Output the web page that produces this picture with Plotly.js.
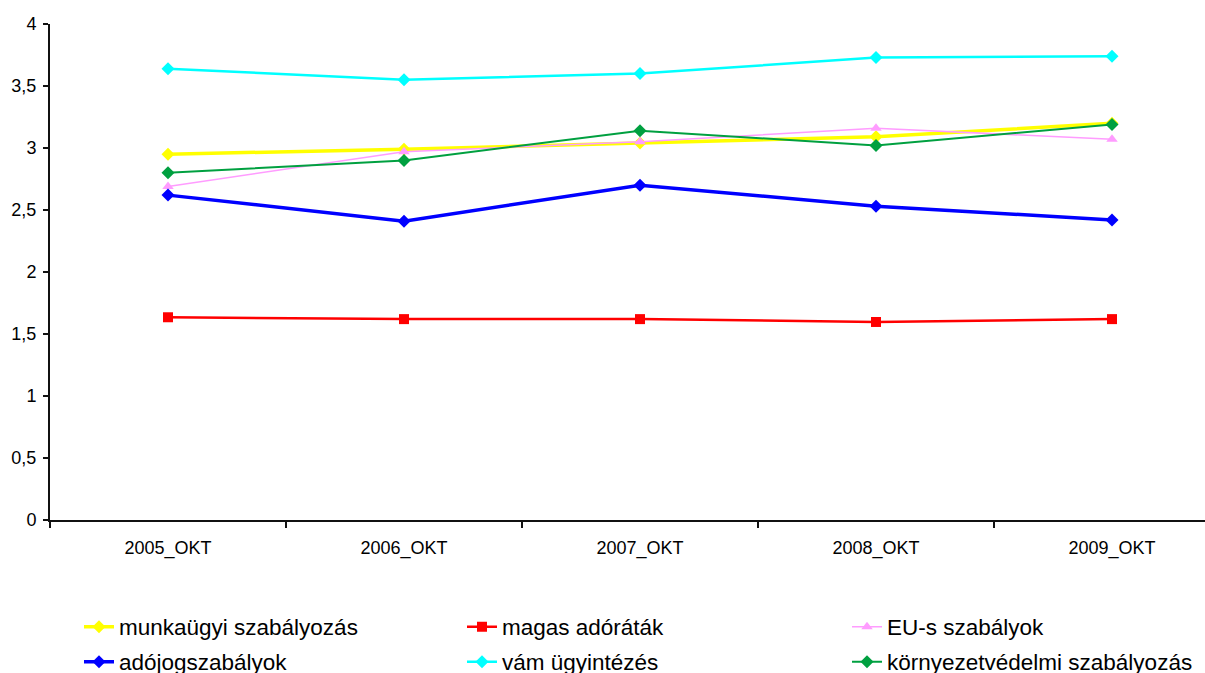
<!DOCTYPE html>
<html>
<head>
<meta charset="utf-8">
<script src="https://cdn.plot.ly/plotly-3.0.1.min.js"></script>
<style>
html, body { margin: 0; padding: 0; overflow: hidden; background: #fff; }
#chart { width: 1240px; height: 673px; }
</style>
</head>
<body>
<div id="chart"></div>
<script>
const categories = ['2005_OKT', '2006_OKT', '2007_OKT', '2008_OKT', '2009_OKT'];
const munkaugyi = [2.95, 2.99, 3.04, 3.09, 3.20];
const magasAdoratak = [1.635, 1.62, 1.62, 1.597, 1.62];
const euSzabalyok = [2.69, 2.97, 3.05, 3.16, 3.07];
const adojog = [2.62, 2.41, 2.70, 2.53, 2.42];
const vam = [3.64, 3.55, 3.60, 3.73, 3.74];
const kornyezet = [2.80, 2.90, 3.14, 3.02, 3.19];
const seriesNames = ['munkaügyi szabályozás', 'magas adóráták', 'EU-s szabályok', 'adójogszabályok', 'vám ügyintézés', 'környezetvédelmi szabályozás'];

function tr(name, y, color, width, symbol, size, legend) {
  return {
    type: 'scatter', mode: 'lines+markers', name: name, x: categories, y: y,
    line: { color: color, width: width },
    marker: { color: color, symbol: symbol, size: size },
    legend: legend
  };
}

const data = [
  tr(seriesNames[0], munkaugyi, '#FFFF00', 3.5, 'diamond', 10, 'legend'),
  tr(seriesNames[1], magasAdoratak, '#FF0000', 2.5, 'square', 10, 'legend2'),
  tr(seriesNames[2], euSzabalyok, '#FF9CFF', 1.5, 'triangle-up', 10, 'legend3'),
  tr(seriesNames[3], adojog, '#0000FF', 3.5, 'diamond', 10, 'legend4'),
  tr(seriesNames[4], vam, '#00FFFF', 2.5, 'diamond', 10, 'legend5'),
  tr(seriesNames[5], kornyezet, '#00A040', 2, 'diamond', 10, 'legend6')
];

function leg(xpx, ypx) {
  return {
    orientation: 'h', xref: 'container', yref: 'container',
    xanchor: 'left', yanchor: 'middle',
    x: xpx / 1240, y: 1 - ypx / 673,
    font: { family: 'Liberation Sans, Arial, sans-serif', size: 22.5, color: '#000' },
    bgcolor: 'rgba(0,0,0,0)', borderwidth: 0
  };
}

const layout = {
  width: 1240, height: 673,
  margin: { l: 50, r: 10, t: 24, b: 153 },
  paper_bgcolor: '#fff', plot_bgcolor: '#fff',
  separators: ', ',
  showlegend: true,
  font: { family: 'Liberation Sans, Arial, sans-serif', size: 18, color: '#000' },
  xaxis: {
    type: 'category', range: [-0.5, 4.5], tickson: 'boundaries',
    showline: true, linecolor: '#111', linewidth: 2,
    ticks: 'outside', ticklen: 6, tickwidth: 1.5, tickcolor: '#111',
    showgrid: false, zeroline: false, ticklabelstandoff: 10,
    tickfont: { size: 18 }
  },
  yaxis: {
    range: [0, 4], dtick: 0.5, tick0: 0,
    showline: true, linecolor: '#111', linewidth: 2,
    ticks: 'outside', ticklen: 5, tickwidth: 1.5, tickcolor: '#111',
    showgrid: false, zeroline: false, ticklabelstandoff: 3,
    tickfont: { size: 18 }
  },
  legend: leg(79, 627),
  legend2: leg(462, 627),
  legend3: leg(847, 627),
  legend4: leg(79, 662),
  legend5: leg(462, 662),
  legend6: leg(847, 662)
};

Plotly.newPlot('chart', data, layout, { staticPlot: true, displayModeBar: false });
</script>
</body>
</html>
